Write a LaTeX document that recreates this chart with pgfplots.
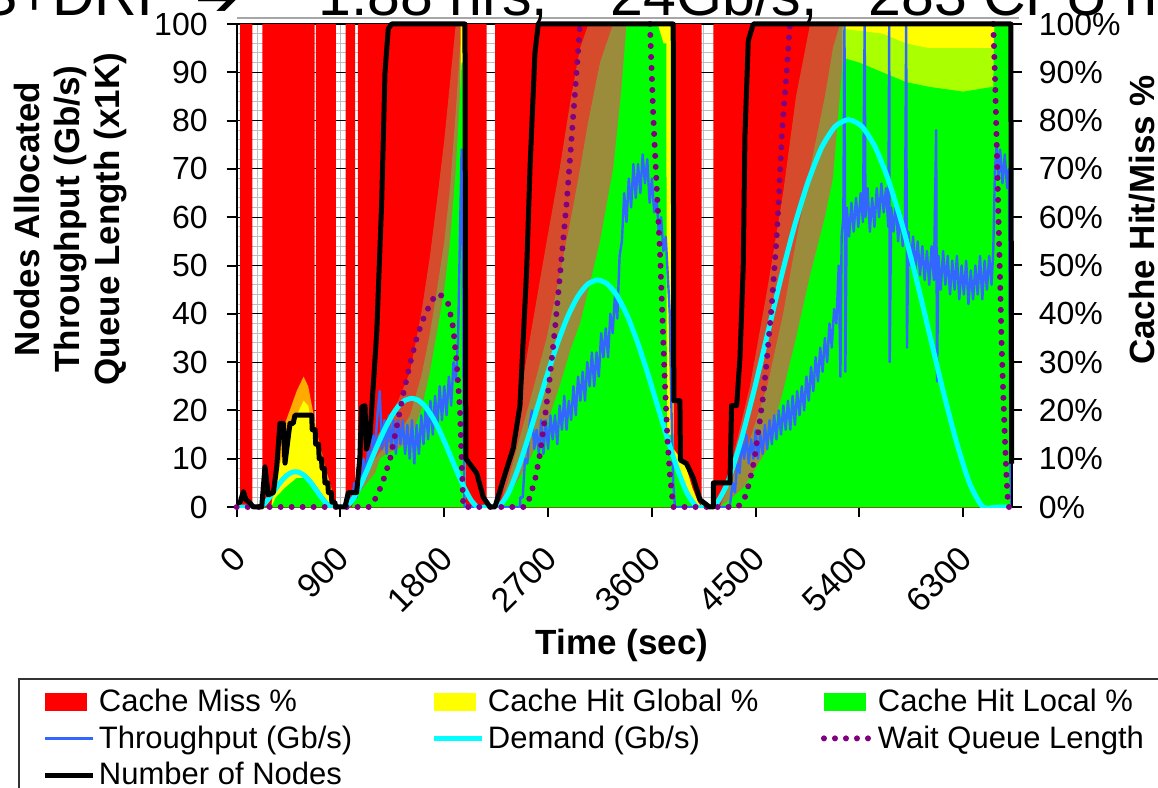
\documentclass[border=0pt]{standalone}
\usepackage{fontspec}
\setmainfont{Liberation Sans}
\newfontfamily\djv{DejaVu Sans}
\usepackage{pgfplots}
\pgfplotsset{compat=1.18}
\definecolor{xblue}{RGB}{51,102,255}
\definecolor{xpurple}{RGB}{128,0,128}
\definecolor{xcyan}{RGB}{0,255,255}
\definecolor{xyellow}{RGB}{255,255,0}
\definecolor{xgreen}{RGB}{0,255,0}
\definecolor{xred}{RGB}{255,0,0}
\definecolor{blendA}{RGB}{215,75,45}
\definecolor{blendB}{RGB}{155,140,60}
\definecolor{xorange}{RGB}{255,170,0}
\definecolor{ygmix}{RGB}{170,255,0}
\pgfplotsset{
  arealeg/.style={legend image code/.code={\fill[##1] (0pt,-4.5pt) rectangle (21pt,4.5pt);}},
  lineleg/.style={legend image code/.code={\draw[##1] (0pt,0pt) -- (24pt,0pt);}},
  common/.style={scale only axis, width=387.5pt, height=241.5pt,
    at={(118.35pt,140.5pt)}, anchor=south west,
    xmin=0, xmax=6720, ymin=0, ymax=100},
}
\begin{document}
\begin{tikzpicture}[x=1pt,y=1pt]
\begin{axis}[common,
  axis x line*=bottom, axis y line*=left, axis line style={-, line width=1pt},
  tick align=outside, major tick length=5pt, minor tick length=0pt,
  major tick style={line width=1pt, black},
  xtick={0,900,...,6300}, xticklabels={0,900,1800,2700,3600,4500,5400,6300},
  minor xtick={90,180,...,6700},
  ytick={0,10,...,100}, yticklabels={0,10,20,30,40,50,60,70,80,90,100},
  minor ytick={2,4,...,98},
  xmajorgrids, xminorgrids, ymajorgrids, yminorgrids,
  major x grid style={black!25, line width=0.5pt},
  minor x grid style={black!25, line width=0.5pt},
  major y grid style={black, line width=0.6pt},
  minor y grid style={black!25, line width=0.5pt},
  tick label style={font=\fontsize{16}{19}\selectfont},
  xticklabel style={font=\fontsize{17}{20}\selectfont, xshift=-3pt, yshift=-8.5pt, rotate=45, anchor=north east},
  yticklabel style={xshift=-6pt},
  lineleg,
  legend columns=3,
  legend cell align=left,
  legend style={at={(-0.2822,-0.354)}, anchor=north west, draw=black!80, line width=1pt,
    font=\fontsize{15.5}{18}\selectfont, inner xsep=12pt, inner ysep=4pt, row sep=3.6pt,
    nodes={inner xsep=1.5pt, inner ysep=1pt}},
]
% Cache Miss (red)
\addplot[fill=xred, draw=none, arealeg] coordinates {
(29,0)(29,100)(135,100)(135,0)(222,0)(222,100)(676,100)(676,0)(686,0)(686,100)(861,100)(861,0)
(945,0)(945,100)(1026,100)(1026,0)(1050,0)(1050,100)(2168,100)(2168,0)
(2240,0)(2240,100)(4032,100)(4032,0)(4133,0)(4133,100)(6720,100)(6720,0)};
\addlegendentry{\makebox[165pt][l]{Cache Miss \%}}
% blends (forget plot)
\addplot[fill=blendA, draw=none, forget plot] coordinates {
(0,0)(1000,0)(1030,4)(1100,8)(1200,14)(1300,18)(1400,22)(1503,28)(1600,40)(1676,52)(1750,66)(1800,76)(1850,88)(1900,100)(1983,100)(1984,0)
(2283,0)(2350,8)(2450,22)(2543,35)(2688,55)(2800,70)(2900,85)(2977,95)(3050,100)(3381,100)(3385,0)
(4190,0)(4300,10)(4450,25)(4600,45)(4738,65)(4850,85)(4972,100)(5260,100)(5262,0)(6720,0)};
\addplot[fill=blendB, draw=none, forget plot] coordinates {
(0,0)(1000,0)(1030,3)(1100,6)(1200,10)(1300,13)(1400,15)(1503,19)(1600,27)(1676,36)(1750,47)(1800,55)(1850,66)(1900,82)(1936,95)(1983,100)(1984,0)
(2283,0)(2350,5)(2450,14)(2543,22)(2688,35)(2800,48)(2900,60)(2977,70)(3050,80)(3150,92)(3264,100)(3381,100)(3385,0)
(4190,0)(4300,6)(4450,14)(4600,25)(4738,40)(4850,55)(4972,70)(5100,85)(5170,95)(5230,100)(5260,100)(5262,0)(6720,0)};
\addplot[fill=xorange, draw=none, forget plot] coordinates {
(0,0)(300,0)(340,10)(400,16)(460,20)(520,24)(580,27)(620,25)(660,20)(700,15)(760,9)(820,4)(850,0)(6720,0)};
% Cache Hit Global (yellow)
\addplot[fill=xyellow, draw=none, arealeg] coordinates {
(0,0)(300,0)(340,6)(400,11)(460,15)(520,19)(580,22)(620,21)(660,16)(700,11)(760,5)(820,1)(850,0)
(1940,0)(1942,100)(1982,100)(1983,0)
(3375,0)(3381,100)(3785,100)(3788,12)(3850,10)(3900,8)(3950,4)(4000,1)(4030,0)
(5250,0)(5257,100)(6720,100)(6720,0)};
\addlegendentry{\makebox[165pt][l]{Cache Hit Global \%}}
\addplot[fill=ygmix, draw=none, forget plot] coordinates {
(0,0)(5250,0)(5257,99)(5600,98)(5800,96)(6000,95)(6300,95)(6560,95)(6570,100)(6720,100)(6720,0)};
% Cache Hit Local (green)
\addplot[fill=xgreen, draw=none, arealeg] coordinates {
(0,0)(300,0)(340,2)(420,4)(520,6)(600,6)(680,4)(760,2)(820,0)
(1000,0)(1030,2)(1100,4)(1200,7)(1243,10)(1300,11)(1400,12)(1503,14)(1600,20)(1676,28)(1750,38)(1800,45)(1850,55)(1900,70)(1936,85)(1950,92)(1966,92)(1968,50)(1982,50)(1983,0)
(2283,0)(2350,2)(2450,6)(2543,10)(2688,17)(2800,25)(2900,33)(2977,38)(3050,45)(3150,55)(3264,70)(3330,85)(3381,100)(3650,100)(3700,96)(3725,96)(3730,15)(3788,15)(3800,8)(3830,6)(3870,5)(3900,3)(3950,1)(4000,0)
(4190,0)(4300,2)(4392,4)(4450,6)(4600,12)(4738,24)(4850,35)(4972,48)(5100,60)(5170,68)(5230,85)(5257,93)(5400,92)(5600,90)(5800,88)(6000,87)(6300,86)(6560,87)(6570,100)(6720,100)(6720,0)};
\addlegendentry{\makebox[165pt][l]{Cache Hit Local \%}}
% Throughput (blue)
\addplot[xblue, line width=1.2pt, line join=round] coordinates {
(0,0)(200,0)(230,0.5)(260,1.5)(290,2.5)(320,3.5)(350,4.5)(380,5.5)(410,6.2)(440,6.8)(470,7.2)(500,7.4)(530,7.2)(560,7)(590,6.5)(620,6)(650,5.2)(680,4.2)(710,3.2)(740,2.2)(770,1.3)(800,0.5)(830,0)
(968,0)(980,2)(1000,1)(1020,5)(1040,2)(1060,8)(1080,4)(1100,10)(1120,6)(1140,12)(1160,9)(1180,15)(1200,12)(1220,19)(1240,24)(1260,12)(1280,18)(1300,11)(1320,19)(1340,12)(1360,18)(1380,11)(1400,18)(1420,13)(1440,18)(1460,11)(1480,17)(1500,10)(1520,18)(1540,9)(1560,17)(1580,11)(1600,19)(1620,13)(1640,21)(1660,14)(1680,22)(1700,15)(1720,23)(1740,17)(1760,25)(1780,18)(1800,25)(1820,19)(1840,27)(1860,21)(1880,30)(1900,26)(1920,35)(1935,55)(1950,74)(1958,60)(1965,30)(1975,0)
(2456,0)(2460,2)(2480,2)(2500,10)(2520,9)(2540,17)(2560,20)(2580,12)(2600,16)(2620,11)(2640,18)(2660,11)(2680,18)(2700,12)(2720,19)(2740,14)(2760,19)(2780,13)(2800,21)(2820,16)(2840,23)(2860,16)(2880,22)(2900,18)(2920,25)(2940,19)(2960,27)(2980,22)(3000,28)(3020,22)(3040,30)(3060,25)(3080,32)(3100,25)(3120,32)(3140,27)(3160,36)(3180,31)(3200,37)(3220,31)(3240,40)(3260,36)(3280,44)(3300,39)(3320,52)(3340,55)(3360,65)(3380,59)(3400,68)(3420,62)(3440,71)(3460,64)(3480,71)(3500,65)(3520,73)(3540,67)(3560,72)(3580,63)(3600,68)(3620,61)(3640,64)(3660,57)(3680,60)(3700,53)(3720,56)(3740,47)(3755,40)(3770,20)(3785,5)(3800,0)
(4277,0)(4280,1)(4300,5)(4320,3)(4340,9)(4360,7)(4380,14)(4400,10)(4420,15)(4440,9)(4460,14)(4480,10)(4500,16)(4520,10)(4540,15)(4560,11)(4580,17)(4600,12)(4620,18)(4640,13)(4660,19)(4680,14)(4700,20)(4720,15)(4740,21)(4760,16)(4780,22)(4800,16)(4820,23)(4840,17)(4860,24)(4880,19)(4900,25)(4920,20)(4940,27)(4960,22)(4980,29)(5000,24)(5020,31)(5040,26)(5060,33)(5080,28)(5100,35)(5120,30)(5140,38)(5160,33)(5180,41)(5200,38)(5220,50)(5235,27)(5245,56)(5260,60)(5270,100)(5278,28)(5290,62)(5310,56)(5330,63)(5350,57)(5370,64)(5390,58)(5410,65)(5430,59)(5445,100)(5452,60)(5470,66)(5490,57)(5510,64)(5530,58)(5550,66)(5570,60)(5590,67)(5610,61)(5630,66)(5650,58)(5658,100)(5662,30)(5675,62)(5695,57)(5715,63)(5735,55)(5755,61)(5775,54)(5795,60)(5805,100)(5812,33)(5825,57)(5845,50)(5865,56)(5885,49)(5905,55)(5925,48)(5945,54)(5965,47)(5985,53)(6005,46)(6025,54)(6045,47)(6065,78)(6072,26)(6085,52)(6105,45)(6125,53)(6145,46)(6165,52)(6185,44)(6205,51)(6225,45)(6245,52)(6265,43)(6285,50)(6305,44)(6325,51)(6345,42)(6365,49)(6385,43)(6405,50)(6425,44)(6445,52)(6465,43)(6485,51)(6505,45)(6525,52)(6545,46)(6560,53)(6575,70)(6590,75)(6605,68)(6620,74)(6640,67)(6660,73)(6680,66)(6695,70)(6705,30)(6712,2)(6720,0)};
\addlegendentry{\makebox[165pt][l]{Throughput (Gb/s)}}
% Demand (cyan)
\addplot[xcyan, line width=2.5pt, smooth, tension=0.4] coordinates {
(0,0)(150,0)(200,0)(231,0.45)(262,1.26)(293,2.23)(324,3.29)(355,4.34)(386,5.31)(417,6.14)(448,6.77)(479,7.17)(510,7.3)(541,7.17)(572,6.77)(603,6.14)(634,5.31)(665,4.34)(696,3.29)(727,2.23)(758,1.26)(789,0.45)(820,0)(880,0)
(945,0)(1002,1.39)(1060,3.87)(1117,6.88)(1174,10.15)(1231,13.38)(1289,16.38)(1346,18.92)(1403,20.88)(1460,22.09)(1518,22.5)(1575,22.09)(1632,20.88)(1689,18.92)(1747,16.38)(1804,13.38)(1861,10.15)(1918,6.88)(1976,3.87)(2033,1.39)(2090,0)(2180,0)
(2270,0)(2356,2.91)(2442,8.07)(2528,14.38)(2614,21.18)(2700,27.95)(2786,34.2)(2872,39.53)(2958,43.59)(3044,46.14)(3130,47)(3216,46.14)(3302,43.59)(3388,39.53)(3474,34.2)(3560,27.95)(3646,21.18)(3732,14.38)(3818,8.07)(3904,2.91)(3990,0)(4060,0)
(4140,0)(4256,4.97)(4373,13.79)(4490,24.54)(4606,36.14)(4722,47.69)(4839,58.38)(4956,67.45)(5072,74.43)(5188,78.76)(5305,80.2)(5422,78.76)(5538,74.43)(5654,67.45)(5771,58.38)(5888,47.69)(6004,36.14)(6120,24.54)(6237,13.79)(6354,4.97)(6470,0)(6600,0)(6720,0)};
\addlegendentry{\makebox[165pt][l]{Demand (Gb/s)}}
\addlegendimage{xpurple, line width=3pt, dash pattern=on 0pt off 5.5pt, line cap=round}
\addlegendentry{\makebox[165pt][l]{Wait Queue Length}}
\addlegendimage{black, line width=2.5pt}
\addlegendentry{\makebox[165pt][l]{Number of Nodes}}
\end{axis}
% right axis
\begin{axis}[common, axis x line=none, axis y line*=right, axis line style={-, line width=1pt},
  tick align=outside, major tick length=5pt, major tick style={line width=1pt, black},
  xtick=\empty, ytick={0,10,...,100},
  yticklabels={0\%,10\%,20\%,30\%,40\%,50\%,60\%,70\%,80\%,90\%,100\%},
  tick label style={font=\fontsize{16}{19}\selectfont}, yticklabel style={xshift=5pt}]
\addplot[draw=none] coordinates {(0,0)};
\end{axis}
% overlay (no clip)
\begin{axis}[common, hide axis, clip=false, unbounded coords=jump]
\addplot[xpurple, line width=3pt, dash pattern=on 0pt off 5.5pt, line cap=round] coordinates {
(0,0)(1156,0)(1185,1)(1230,3)(1272,5.6)(1329,9.8)(1387,16.6)(1445,23.5)(1503,29.7)(1561,35)(1610,38.5)(1647,40.5)(1700,43)(1748,44.2)(1790,43.5)(1835,42)(1878,37)(1907,30)(1936,20)(1950,10)(1965,0)
(2500,0)(2543,2)(2590,6)(2630,11)(2670,18)(2716,27)(2760,37)(2803,48)(2830,55)(2861,63)(2890,72)(2918,81)(2950,91)(2977,100)(3200,nan)
(3583,100)(3612,81)(3640,67)(3670,53)(3690,40)(3713,25.6)(3735,14)(3757,6.5)(3785,0)
(4340,0)(4392,1)(4420,3)(4450,5.5)(4490,10)(4537,18)(4565,23)(4595,30)(4640,42)(4681,55.6)(4705,66)(4725,76)(4745,83)(4768,90)(4797,100)(5500,nan)
(6560,100)(6575,89)(6590,75)(6603,62)(6618,48)(6632,34)(6647,23)(6661,14)(6675,6)(6690,0)(6720,0)};
\addplot[black, line width=2.5pt, line join=round] coordinates {
(0,0.8)(30,1)(58,3.2)(80,1.5)(110,1)(144,0)(217,0)(245,8.3)(274,2.5)(318,3)(347,8.3)(375,17.3)(404,17.3)(419,9.1)(462,17.3)(490,17.3)(505,19)(650,19)
(655,16)(680,16)(685,13)(710,13)(715,10)(735,10)(740,8)(760,8)(765,5)(790,5)(795,3)(820,3)(825,1)(850,1)(860,0)
(939,0)(968,3)(1040,3)(1069,10.6)(1083,20.7)(1112,21)(1125,12)(1156,15)(1214,36)(1257,63)(1286,90)(1314,99)(1343,100)(1979,100)(1987,10)(2081,7)(2138,2)(2196,0)
(2239,0)(2311,5.6)(2398,12.2)(2456,21)(2514,49)(2543,70)(2586,94)(2615,100)(3785,100)(3790,22)(3843,22)(3848,9.7)(3900,9)(3959,6)(4017,1.5)(4100,0)
(4132,0)(4133,5)(4277,5)(4291,21)(4335,21)(4364,31)(4392,49.7)(4407,77)(4436,96.6)(4479,100)(6712,100)(6720,9)};
\end{axis}
% labels
\node[rotate=90, align=center, font=\bfseries\fontsize{17.5}{20}\selectfont] at (35.5,284.5)
  {Nodes Allocated\\Throughput (Gb/s)\\Queue Length (x1K)};
\node[rotate=90, font=\bfseries\fontsize{17.5}{20}\selectfont] at (571,284) {Cache Hit/Miss \%};
\node[anchor=base, inner sep=0pt, font=\bfseries\fontsize{17.5}{20}\selectfont] at (311,66.5) {Time (sec)};
% title (clipped at top)
\draw[black!35, line width=1pt] (118.35,385) -- (509.5,385);
\node[anchor=base east, inner sep=0pt, font=\fontsize{29.5}{32}\selectfont] at (88.5,386) {S+DRP};
\node[anchor=base, inner sep=0pt, font=\djv\fontsize{27}{32}\selectfont] at (109,386) {➔};
\node[anchor=base west, inner sep=0pt, font=\fontsize{29.5}{32}\selectfont] at (159,386) {1.88 hrs,};
\node[anchor=base west, inner sep=0pt, font=\fontsize{29.5}{32}\selectfont] at (288,386) {\textasciitilde24Gb/s,};
\node[anchor=base west, inner sep=0pt, font=\fontsize{29.5}{32}\selectfont] at (434,386) {283 CPU hrs};
\pgfresetboundingbox
\useasboundingbox (0,0) rectangle (579,394);
\end{tikzpicture}
\end{document}
